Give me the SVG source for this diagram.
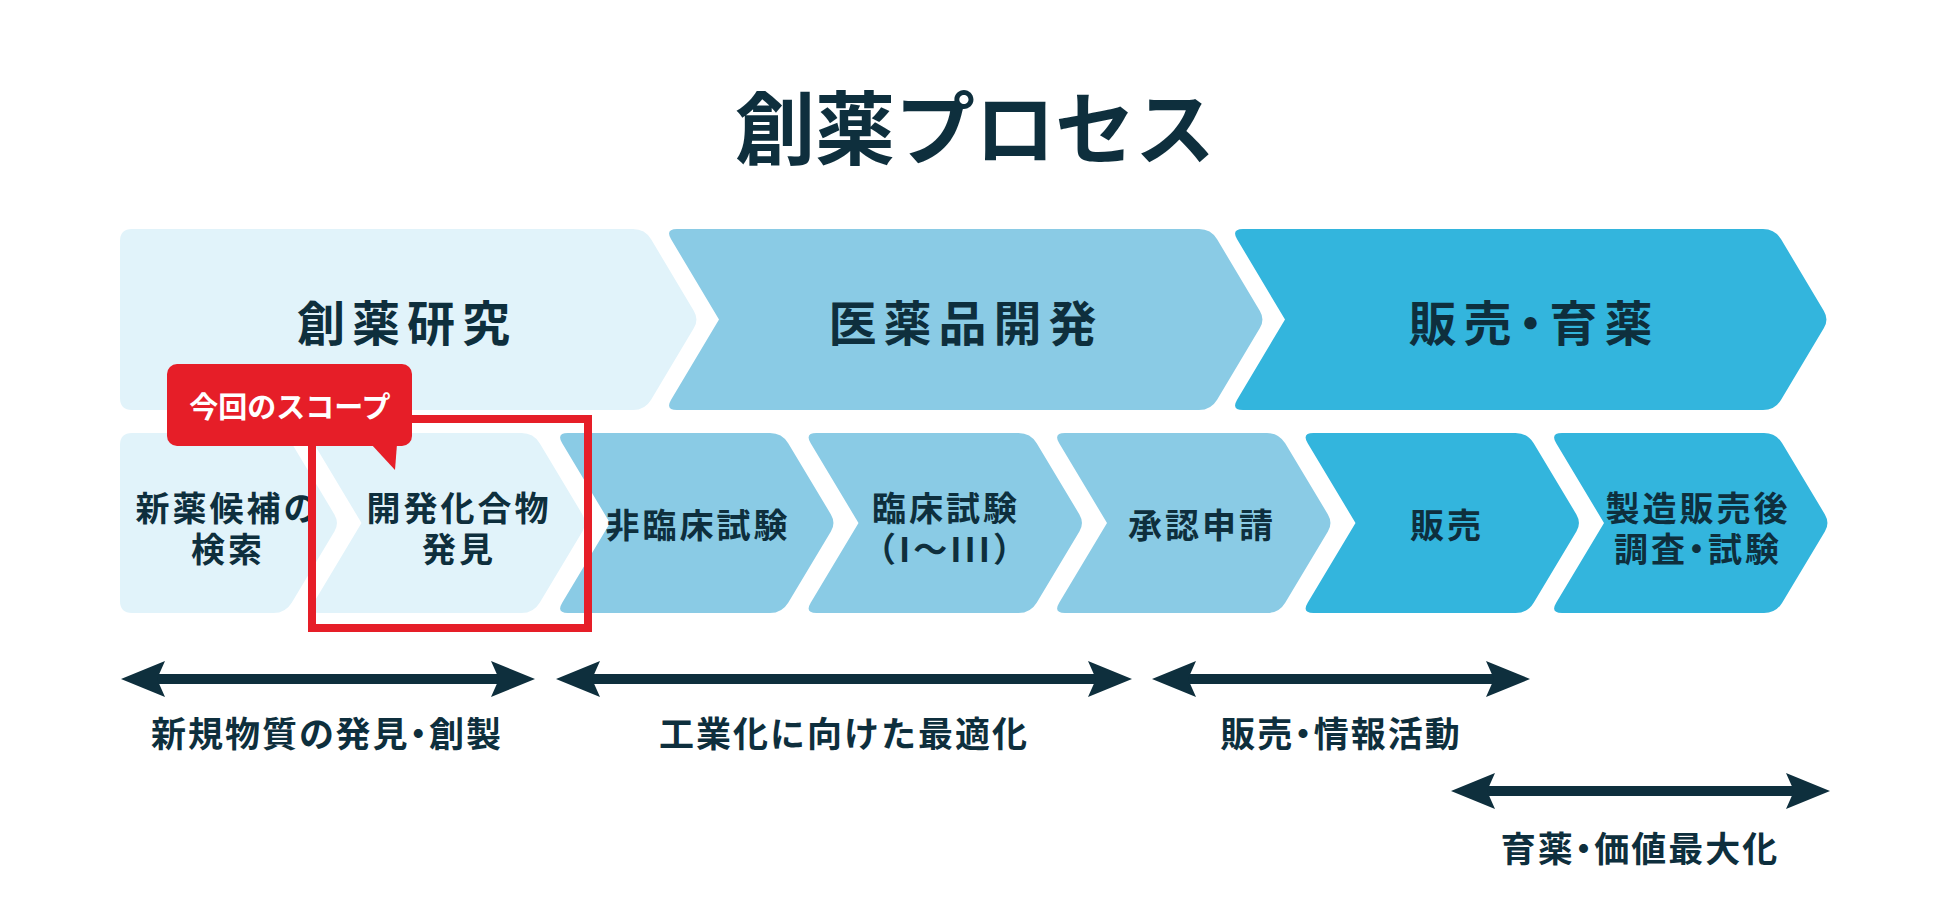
<svg xmlns="http://www.w3.org/2000/svg" width="1950" height="907" viewBox="0 0 1950 907">
  <style>
    .t { font-family: "Noto Sans CJK JP", "Noto Sans", sans-serif; font-weight: 700; fill: #0e2f3d; text-anchor: middle; dominant-baseline: central; }
    .title { font-size: 80px; }
    .phase { font-size: 48px; letter-spacing: 7px; }
    .step { font-size: 34px; letter-spacing: 3px; }
    .lab { font-size: 35px; letter-spacing: 2px; }
    .palt { font-feature-settings: "palt" 1; }
    .co { font-size: 29px; fill: #ffffff; }
    .c1 { fill: #e1f3fa; }
    .c2 { fill: #8acbe5; }
    .c3 { fill: #33b5dd; }
    .arrow { stroke: #0e2f3d; stroke-width: 10; fill: none; marker-start: url(#ah); marker-end: url(#ah); }
  </style>
  <defs>
    <path id="chevL" d="M 12,0 L 214,0 Q 226,0 232.2,10.3 L 274.9,81.4 Q 280,90 274.9,98.6 L 232.2,169.7 Q 226,180 214,180 L 12,180 Q 0,180 6.2,169.7 L 54,90 L 6.2,10.3 Q 0,0 12,0 Z"/>
    <marker id="ah" viewBox="0 0 44 36" markerWidth="44" markerHeight="36" refX="8" refY="18" orient="auto-start-reverse" markerUnits="userSpaceOnUse">
      <path d="M 0,0 L 44,18 L 0,36 L 8,18 Z" fill="#0e2f3d"/>
    </marker>
  </defs>
  <rect width="1950" height="907" fill="#ffffff"/>

  <text class="t title" x="975" y="123">創薬プロセス</text>

  <g id="phase-research">
    <path class="c1" d="M 132,229 L 633,229 Q 645,229 651.1,239.3 L 693.9,310.9 Q 699,319.5 693.9,328.1 L 651.1,399.7 Q 645,410 633,410 L 132,410 Q 120,410 120,398 L 120,241 Q 120,229 132,229 Z"/>
    <text class="t phase" x="407" y="320">創薬研究</text>
  </g>
  <g id="phase-development">
    <path class="c2" d="M 677,229 L 1199,229 Q 1211,229 1217.1,239.3 L 1259.9,310.9 Q 1265,319.5 1259.9,328.1 L 1217.1,399.7 Q 1211,410 1199,410 L 677,410 Q 665,410 671.1,399.7 L 719,319.5 L 671.1,239.3 Q 665,229 677,229 Z"/>
    <text class="t phase" x="966" y="320">医薬品開発</text>
  </g>
  <g id="phase-sales">
    <path class="c3" d="M 1243,229 L 1763,229 Q 1775,229 1781.1,239.3 L 1823.9,310.9 Q 1829,319.5 1823.9,328.1 L 1781.1,399.7 Q 1775,410 1763,410 L 1243,410 Q 1231,410 1237.1,399.7 L 1285,319.5 L 1237.1,239.3 Q 1231,229 1243,229 Z"/>
    <text class="t phase palt" x="1534" y="320">販売・育薬</text>
  </g>

  <g id="step-search">
    <path class="c1" d="M 132,433 L 273.5,433 Q 285.5,433 291.7,443.3 L 334.4,514.4 Q 339.5,523 334.4,531.6 L 291.7,602.7 Q 285.5,613 273.5,613 L 132,613 Q 120,613 120,601 L 120,445 Q 120,433 132,433 Z"/>
    <text class="t step" x="228" y="506">新薬候補の</text>
    <text class="t step" x="228" y="547">検索</text>
  </g>
  <g id="step-discovery">
    <use href="#chevL" class="c1" x="307.5" y="433"/>
    <text class="t step" x="459" y="506">開発化合物</text>
    <text class="t step" x="459" y="547">発見</text>
  </g>
  <g id="step-nonclinical">
    <use href="#chevL" class="c2" x="556" y="433"/>
    <text class="t step" x="698" y="523">非臨床試験</text>
  </g>
  <g id="step-clinical">
    <use href="#chevL" class="c2" x="804.5" y="433"/>
    <text class="t step" x="946" y="506">臨床試験</text>
    <text class="t step" x="946" y="547">（I～III）</text>
  </g>
  <g id="step-approval">
    <use href="#chevL" class="c2" x="1053" y="433"/>
    <text class="t step" x="1202" y="523">承認申請</text>
  </g>
  <g id="step-sales">
    <use href="#chevL" class="c3" x="1301.5" y="433"/>
    <text class="t step" x="1447" y="523">販売</text>
  </g>
  <g id="step-postmarketing">
    <use href="#chevL" class="c3" x="1550" y="433"/>
    <text class="t step" x="1698" y="506">製造販売後</text>
    <text class="t step palt" x="1698" y="547">調査・試験</text>
  </g>

  <g id="scope">
    <rect x="312" y="419" width="276" height="209" fill="none" stroke="#e61e28" stroke-width="8"/>
    <rect x="167" y="364" width="245" height="82" rx="10" fill="#e61e28"/>
    <path d="M 371,444 L 397,444 L 395,470 Z" fill="#e61e28"/>
    <text class="t co" x="290" y="405">今回のスコープ</text>
  </g>

  <g id="connectors">
    <line class="arrow" x1="157" y1="679" x2="499" y2="679"/>
    <line class="arrow" x1="592" y1="679" x2="1096" y2="679"/>
    <line class="arrow" x1="1188" y1="679" x2="1494" y2="679"/>
    <line class="arrow" x1="1487" y1="791" x2="1794" y2="791"/>
  </g>

  <g id="labels">
    <text class="t lab palt" x="327" y="731">新規物質の発見・創製</text>
    <text class="t lab" x="844" y="731">工業化に向けた最適化</text>
    <text class="t lab palt" x="1341" y="731">販売・情報活動</text>
    <text class="t lab palt" x="1640" y="846">育薬・価値最大化</text>
  </g>
</svg>
